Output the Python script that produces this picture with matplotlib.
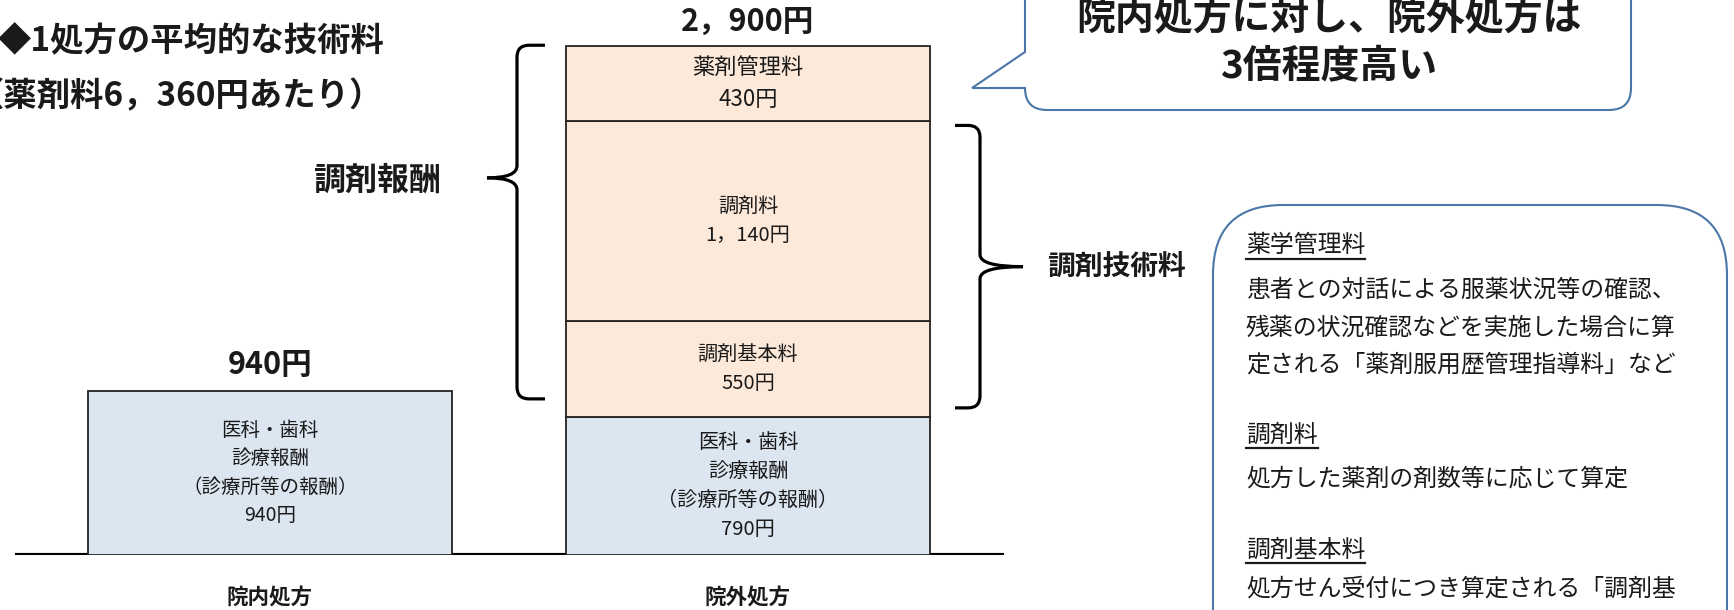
import matplotlib
matplotlib.use('Agg')
import matplotlib.pyplot as plt
import numpy as np
from matplotlib.path import Path
from matplotlib.patches import PathPatch, FancyBboxPatch

plt.rcParams['font.family'] = ['Noto Sans CJK JP', 'DejaVu Sans']

# データ
categories = ['院内処方', '院外処方']
naibu_values = [940]
naibu_label = '医科・歯科\n診療報酬\n（診療所等の報酬）'
gaibu_names = ['医科・歯科\n診療報酬\n（診療所等の報酬）', '調剤基本料', '調剤料', '薬剤管理料']
gaibu_values = [790, 550, 1140, 430]
totals = [940, 2900]  # 図に書かれている合計（四捨五入済み）

title_lines = ['◆1処方の平均的な技術料', '（薬剤料6，360円あたり）']
bubble_text = '院内処方に対し、院外処方は\n3倍程度高い'
info_lines = [
    ('薬学管理料', True),
    ('患者との対話による服薬状況等の確認、', False),
    ('残薬の状況確認などを実施した場合に算', False),
    ('定される「薬剤服用歴管理指導料」など', False),
    ('調剤料', True),
    ('処方した薬剤の剤数等に応じて算定', False),
    ('調剤基本料', True),
    ('処方せん受付につき算定される「調剤基', False),
]
info_y = [246, 290, 328, 365, 435, 479, 550, 589]

BLUE = '#DCE6F1'
PINK = '#FDE9D9'
EDGE = '#222222'
LINE_BLUE = '#4A76A8'
TXT = '#1a1a1a'


def yen_str(v):
    return f'{v:,}'.replace(',', '，') + '円'


W, H = 1734, 610
fig = plt.figure(figsize=(W / 100, H / 100), dpi=100)

# 装飾用（ピクセル座標, y は下向き）
ov = fig.add_axes([0, 0, 1, 1])
ov.set_xlim(0, W)
ov.set_ylim(H, 0)
ov.axis('off')

# 棒グラフ本体
ax = fig.add_axes([0, 55 / H, 1, 555 / H])
ax.set_xlim(0, W)
ax.set_ylim(0, 2900 * 555 / 507)
ax.axis('off')

x_pos = [270, 748]
bar_w = 364

ax.plot([15, 1004], [0, 0], color='black', lw=3, solid_capstyle='butt', zorder=2)

ax.bar(x_pos[0], naibu_values[0], width=bar_w, color=BLUE, edgecolor=EDGE,
       linewidth=1.3, zorder=3)
bottoms = np.concatenate([[0], np.cumsum(gaibu_values)[:-1]])
ax.bar([x_pos[1]] * len(gaibu_values), gaibu_values, bottom=bottoms, width=bar_w,
       color=[BLUE, PINK, PINK, PINK], edgecolor=EDGE, linewidth=1.3, zorder=3)

# 棒内のラベル
ax.text(x_pos[0], naibu_values[0] / 2, naibu_label + '\n' + yen_str(naibu_values[0]),
        ha='center', va='center', fontsize=14, color=TXT, linespacing=1.45, zorder=4)
for name, v, b in zip(gaibu_names, gaibu_values, bottoms):
    fs = 16 if name == '薬剤管理料' else 14.5
    ax.text(x_pos[1], b + v / 2, name + '\n' + yen_str(v), ha='center', va='center',
            fontsize=fs, color=TXT, linespacing=1.5, zorder=4)

# 合計ラベル
for x, t in zip(x_pos, totals):
    ax.annotate(yen_str(t), (x, t), xytext=(0, 7), textcoords='offset points',
                ha='center', va='bottom', fontsize=22, fontweight='bold', color=TXT)

# カテゴリ
for x, c in zip(x_pos, categories):
    ax.annotate(c, (x, 0), xytext=(0, -31), textcoords='offset points',
                ha='center', va='center', fontsize=15.5, fontweight='bold', color=TXT)


def yen_px(v):
    return ov.transData.inverted().transform(ax.transData.transform((0, v)))[1]


def brace(x0, xe, xt, ytop, ymid, ybot, r=12):
    d = np.sign(xe - x0)
    up = [(xe, ytop), (x0 + d * r, ytop), (x0, ytop), (x0, ytop + r),
          (x0, ymid - r), (x0, ymid), (xt, ymid)]
    up_c = [Path.MOVETO, Path.LINETO, Path.CURVE3, Path.CURVE3,
            Path.LINETO, Path.CURVE3, Path.CURVE3]
    lo = [(xt, ymid), (x0, ymid), (x0, ymid + r), (x0, ybot - r), (x0, ybot),
          (x0 + d * r, ybot), (xe, ybot)]
    lo_c = [Path.MOVETO, Path.CURVE3, Path.CURVE3, Path.LINETO, Path.CURVE3,
            Path.CURVE3, Path.LINETO]
    for v, c in ((up, up_c), (lo, lo_c)):
        ov.add_patch(PathPatch(Path(v, c), fill=False, lw=2.3, edgecolor='black',
                               capstyle='butt'))


pink_top = sum(gaibu_values)
tech_top = sum(gaibu_values[:3])
blue_top = gaibu_values[0]

# 調剤報酬
lt, lb = yen_px(pink_top) - 1, yen_px(blue_top) - 18
lm = lt + 0.375 * (lb - lt)
brace(517, 545, 487, lt, lm, lb)
ov.text(377, lm + 3, '調剤報酬', ha='center', va='center', fontsize=23,
        fontweight='bold', color=TXT)

# 調剤技術料
rt, rb = yen_px(tech_top) + 4, yen_px(blue_top) - 9
rm = (rt + rb) / 2
brace(980, 955, 1023, rt, rm, rb)
ov.text(1116, rm, '調剤技術料', ha='center', va='center', fontsize=20,
        fontweight='bold', color=TXT)

# タイトル
ov.text(-2, 42, title_lines[0], ha='left', va='center', fontsize=24,
        fontweight='bold', color=TXT)
ov.text(-29, 97, title_lines[1], ha='left', va='center', fontsize=24,
        fontweight='bold', color=TXT)

# 吹き出し
bx0, bx1, by1, br = 1025, 1631, 110, 22
verts = [(bx0, -20), (bx0, 52), (972, 88), (bx0, 88), (bx0, by1), (bx0 + br, by1),
         (bx1 - br, by1), (bx1, by1), (bx1, by1 - br), (bx1, -20), (bx0, -20)]
codes = [Path.MOVETO, Path.LINETO, Path.LINETO, Path.LINETO, Path.CURVE3, Path.CURVE3,
         Path.LINETO, Path.CURVE3, Path.CURVE3, Path.LINETO, Path.CLOSEPOLY]
ov.add_patch(PathPatch(Path(verts, codes), facecolor='white', edgecolor=LINE_BLUE, lw=1.5))
ov.text(1329, 42, bubble_text, ha='center', va='center', fontsize=28,
        fontweight='bold', color=TXT, linespacing=1.25)

# 説明ボックス
ov.add_patch(FancyBboxPatch((1213, 205), 1727 - 1213, 600,
                            boxstyle='round,pad=0,rounding_size=70',
                            facecolor='white', edgecolor=LINE_BLUE, lw=1.5))
heads = []
for (s, is_head), y in zip(info_lines, info_y):
    t = ov.text(1246, y, s, ha='left', va='center', fontsize=17.2, color=TXT)
    if is_head:
        heads.append(t)

fig.canvas.draw()
inv = ov.transData.inverted()
for t in heads:
    bb = t.get_window_extent()
    (x_a, y_a), (x_b, y_b) = inv.transform([[bb.x0, bb.y0], [bb.x1, bb.y1]])
    ov.plot([x_a, x_b], [y_a + 1, y_a + 1], color=TXT, lw=1.6)

fig.savefig('out.png', dpi=100)
